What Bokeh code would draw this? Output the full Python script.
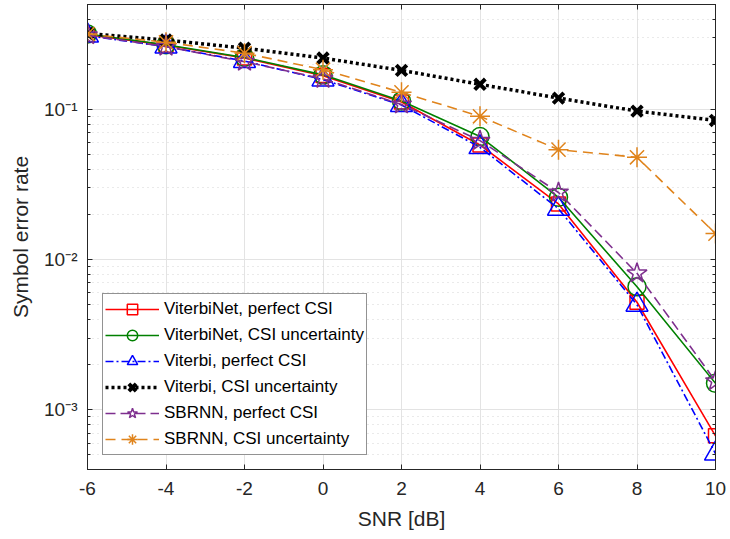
from bokeh.plotting import figure
from bokeh.models import (Range1d, FixedTicker, CustomJSTickFormatter, LinearAxis, LogAxis, Legend)
from bokeh.embed import file_html
from bokeh.resources import INLINE

# ---- data ----
snr = [-6, -4, -2, 0, 2, 4, 6, 8, 10]
vnet_perfect = [0.315, 0.268, 0.220, 0.168, 0.112, 0.058, 0.0235, 0.0052, 0.00067]
vnet_csi = [0.318, 0.270, 0.222, 0.170, 0.114, 0.066, 0.026, 0.0066, 0.0015]
viterbi_perfect = [0.310, 0.262, 0.210, 0.158, 0.107, 0.056, 0.0218, 0.0050, 0.00051]
viterbi_csi = [0.320, 0.290, 0.256, 0.220, 0.182, 0.147, 0.119, 0.0975, 0.0845]
sbrnn_perfect = [0.312, 0.262, 0.208, 0.160, 0.108, 0.062, 0.028, 0.0081, 0.00155]
sbrnn_csi = [0.318, 0.280, 0.237, 0.184, 0.130, 0.090, 0.054, 0.048, 0.0149]

labels = ["ViterbiNet, perfect CSI", "ViterbiNet, CSI uncertainty", "Viterbi, perfect CSI",
          "Viterbi, CSI uncertainty", "SBRNN, perfect CSI", "SBRNN, CSI uncertainty"]
x_ticks = [-6, -4, -2, 0, 2, 4, 6, 8, 10]
y_major = [1e-3, 1e-2, 1e-1]
y_minor = [m * 10.0 ** e for e in (-4, -3, -2, -1) for m in range(2, 10)]

FONT = "Liberation Sans"
DARK = "#262626"

p = figure(width=728, height=537, output_backend="svg", toolbar_location=None,
           y_axis_type="log", x_range=Range1d(-6, 10), y_range=Range1d(4e-4, 0.5),
           min_border_left=87, min_border_right=13, min_border_top=4, min_border_bottom=68)
p.background_fill_color = "white"
p.border_fill_color = "white"
p.outline_line_color = DARK
p.outline_line_width = 1

xt = FixedTicker(ticks=x_ticks)
yt = FixedTicker(ticks=y_major, minor_ticks=y_minor)

# axes
xa = p.xaxis[0]
xa.ticker = xt
xa.axis_label = "SNR [dB]"
xa.formatter = CustomJSTickFormatter(code="return tick.toFixed(0);")
ya = p.yaxis[0]
ya.ticker = yt
ya.axis_label = "Symbol error rate"
ya.formatter = CustomJSTickFormatter(code="""
const e = Math.round(Math.log10(tick));
const sup = {'-1':'\u207b\u00b9','-2':'\u207b\u00b2','-3':'\u207b\u00b3','-4':'\u207b\u2074'};
return '10' + sup[String(e)];
""")
for ax in (xa, ya):
    ax.axis_label_text_font = FONT
    ax.axis_label_text_font_size = "21px"
    ax.axis_label_text_font_style = "normal"
    ax.axis_label_text_color = DARK
    ax.major_label_text_font = FONT
    ax.major_label_text_font_size = "19px"
    ax.major_label_text_color = DARK
    ax.axis_line_color = DARK
    ax.major_tick_line_color = DARK
    ax.minor_tick_line_color = DARK
    ax.major_tick_in = 5
    ax.major_tick_out = 0
    ax.minor_tick_in = 3
    ax.minor_tick_out = 0
xa.major_label_standoff = 12
xa.axis_label_standoff = 9
ya.major_label_standoff = 10
ya.axis_label_standoff = 9

# top and right axes (ticks only)
top = LinearAxis(ticker=xt, formatter=CustomJSTickFormatter(code="return ''"))
right = LogAxis(ticker=yt, formatter=CustomJSTickFormatter(code="return ''"))
for ax in (top, right):
    ax.axis_line_color = DARK
    ax.major_tick_line_color = DARK
    ax.minor_tick_line_color = DARK
    ax.major_tick_in = 5
    ax.major_tick_out = 0
    ax.minor_tick_in = 3
    ax.minor_tick_out = 0
    ax.major_label_standoff = 0
    ax.major_label_text_font_size = "1px"
p.add_layout(top, "above")
p.add_layout(right, "right")

# grids
p.xgrid.ticker = xt
p.ygrid.ticker = yt
p.xgrid.grid_line_color = "#e3e3e3"
p.ygrid.grid_line_color = "#e3e3e3"
p.ygrid.minor_grid_line_color = "#d4d4d4"
p.ygrid.minor_grid_line_dash = "1 4"
p.xgrid.minor_grid_line_color = None

# series
series = [
    (vnet_perfect, "#ff0000", "solid", 1.6, "square", 14, labels[0]),
    (vnet_csi, "#008000", "solid", 1.6, "circle", 18, labels[1]),
    (viterbi_perfect, "#0000ff", "8 3 2 3", 1.6, "triangle", 22, labels[2]),
    (viterbi_csi, "#000000", "3 3", 3.5, "x", 15, labels[3]),
    (sbrnn_perfect, "#7e2f8e", "10 5", 1.6, "star", 21, labels[4]),
    (sbrnn_csi, "#e0841c", "10 6", 1.6, "asterisk", 20, labels[5]),
]
items = []
for ys, col, dash, lw, mk, sz, lab in series:
    r1 = p.line(snr, ys, line_color=col, line_dash=dash, line_width=lw)
    r2 = p.scatter(snr, ys, marker=mk, size=sz, line_color=col, fill_color=None,
                   line_width=(4 if mk == "x" else 1.5))
    items.append((lab, [r1, r2]))

legend = Legend(items=items, location=(15, 14))
legend.label_text_font = FONT
legend.label_text_font_size = "17px"
legend.label_text_color = "#000000"
legend.glyph_width = 54
legend.glyph_height = 26
legend.label_height = 26
legend.spacing = 0
legend.padding = 2
legend.margin = 0
legend.label_standoff = 5
legend.border_line_color = DARK
legend.border_line_width = 1
legend.background_fill_alpha = 1
p.add_layout(legend, "center")

open("out.html", "w").write(file_html(p, INLINE))
